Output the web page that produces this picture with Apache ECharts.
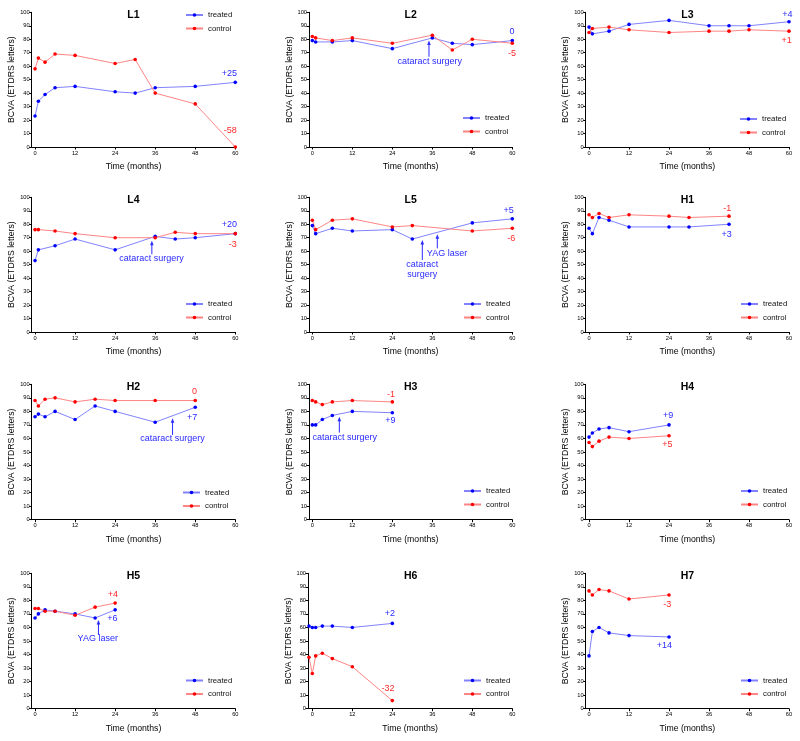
<!DOCTYPE html>
<html><head><meta charset="utf-8">
<script src="https://cdn.jsdelivr.net/npm/echarts@6/dist/echarts.min.js"></script>
<style>html,body{margin:0;padding:0;background:#fff}#c{width:800px;height:741px}</style>
</head><body><div id="c"></div>
<script>
// ---------- DATA ----------
const panelNames = ['L1','L2','L3','L4','L5','H1','H2','H3','H4','H5','H6','H7'];
const xTickLabels = [0, 12, 24, 36, 48, 60];
const seriesNames = ['treated', 'control'];

const L1_months = [0,1,3,6,12,24,30,36,48,60];
const L1_treated = [23,34,39,44,45,41,40,44,45,48];
const L1_control = [58,66,63,69,68,62,65,40,32,0];
const L2_months = [0,1,6,12,24,36,42,48,60];
const L2_treated = [79,78,78,79,73,81,77,76,79];
const L2_control = [82,81,79,81,77,83,72,80,77];
const L3_months = [0,1,6,12,24,36,42,48,60];
const L3_treated = [89,84,86,91,94,90,90,90,93];
const L3_control = [85,88,89,87,85,86,86,87,86];
const L4_months = [0,1,6,12,24,36,42,48,60];
const L4_treated = [53,61,64,69,61,71,69,70,73];
const L4_control = [76,76,75,73,70,70,74,73,73];
const L5_months = [0,1,6,12,24,30,48,60];
const L5_treated = [79,73,77,75,76,69,81,84];
const L5_control = [83,76,83,84,78,79,75,77];
const H1_months = [0,1,3,6,12,24,30,42];
const H1_treated = [77,73,85,83,78,78,78,80];
const H1_control = [87,85,88,85,87,86,85,86];
const H2_months = [0,1,3,6,12,18,24,36,48];
const H2_treated = [76,78,76,80,74,84,80,72,83];
const H2_control = [88,84,89,90,87,89,88,88,88];
const H3_months = [0,1,3,6,12,24];
const H3_treated = [70,70,74,77,80,79];
const H3_control = [88,87,85,87,88,87];
const H4_months = [0,1,3,6,12,24];
const H4_treated = [61,64,67,68,65,70];
const H4_control = [57,54,58,61,60,62];
const H5_months = [0,1,3,6,12,18,24];
const H5_treated = [67,70,73,72,70,67,73];
const H5_control = [74,74,72,72,69,75,78];
const H6_months = [-1,0,1,3,6,12,24];
const H6_treated = [61,60,60,61,61,60,63];
const H6_control = [38,26,39,41,37,31,6];
const H7_months = [0,1,3,6,12,24];
const H7_treated = [39,57,60,56,54,53];
const H7_control = [87,84,88,87,81,84];

const panelData = [
  [L1_months, L1_treated, L1_control],
  [L2_months, L2_treated, L2_control],
  [L3_months, L3_treated, L3_control],
  [L4_months, L4_treated, L4_control],
  [L5_months, L5_treated, L5_control],
  [H1_months, H1_treated, H1_control],
  [H2_months, H2_treated, H2_control],
  [H3_months, H3_treated, H3_control],
  [H4_months, H4_treated, H4_control],
  [H5_months, H5_treated, H5_control],
  [H6_months, H6_treated, H6_control],
  [H7_months, H7_treated, H7_control]
];

// annotation texts: [series, text, month, value]
const notes = [
  [['t','+25',58.2,54.2],['c','-58',58.5,12.6]],
  [['t','0',59.9,86.1],['c','-5',59.9,69.6],['t','cataract surgery',35.2,63.8]],
  [['t','+4',59.5,98.7],['c','+1',59.3,78.9]],
  [['t','+20',58.2,80],['c','-3',59.2,64.6],['t','cataract surgery',34.9,54.2]],
  [['t','+5',58.9,90.5],['c','-6',59.7,69.6],['t','YAG laser',40.4,58.4],['t','cataract\nsurgery',33,46.5]],
  [['c','-1',41.5,91.8],['t','+3',41.3,72.5]],
  [['c','0',47.8,94.5],['t','+7',47.1,75.6],['t','cataract surgery',41.2,59.6]],
  [['c','-1',23.6,92.6],['t','+9',23.4,72.9],['t','cataract surgery',9.7,60.9]],
  [['t','+9',23.7,76.8],['c','+5',23.5,55.2]],
  [['c','+4',23.3,84.7],['t','+6',23.2,66.8],['t','YAG laser',18.8,51.5]],
  [['t','+2',23.3,70.5],['c','-32',22.7,15.1]],
  [['c','-3',23.5,77.1],['t','+14',22.6,46.5]]
];
// arrows: [month, fromValue, toValue]
const arrows = [
  [], [[35,67,79]], [], [[35,57.7,67.8]], [[33,53.5,68.3],[37.5,62.1,72.5]],
  [], [[41.2,62.6,74.9]], [[8.1,64.3,76.1]], [], [[19,54.4,65.5]], [], []
];

// ---------- LAYOUT ----------
const colLeft = [31.7, 309, 585.7];
const colRight = [235.3, 512.3, 789];
const rowTop = [12.3, 197.3, 384.3, 573.3];
const rowBottom = [147, 332, 519.7, 708.7];
const legendLeft = [[185,462,739],[185,463,740],[182,463,740],[185,463,740]];
const legendTop = [[10.5,113.5,114.5],[299.5,299.5,299.5],[488,486.5,486.5],[676,676,676]];
const xMins = [-1,-1,-1,-1,-1,-1,-1,-1,-1,-1,-1.3,-1];

const FONT = 'Liberation Sans, Arial, Helvetica, sans-serif';
const BLUE_LINE = '#8282ff', BLUE_PT = '#0000ff', BLUE_TXT = '#2a2aff';
const RED_LINE = '#ff8585', RED_PT = '#ff0000', RED_TXT = '#ff2a2a';

const grids = [], xAxes = [], yAxes = [], series = [], legends = [], graphics = [];

panelNames.forEach((name, i) => {
  const r = Math.floor(i / 3), c = i % 3;
  const xmin = xMins[i];
  const pxPerMonth = (colRight[c] - colLeft[c]) / 61;
  let left = colLeft[c];
  if (xmin !== -1) left = colRight[c] - pxPerMonth * (60 - xmin);
  const width = colRight[c] - left;
  grids.push({ left: left, top: rowTop[r], width: width, height: rowBottom[r] - rowTop[r], containLabel: false });
  xAxes.push({
    type: 'value', gridIndex: i, min: xmin, max: 60,
    axisLine: { show: true, onZero: false, lineStyle: { color: '#000', width: 1 } },
    axisTick: { show: true, length: 2.5, customValues: xTickLabels, lineStyle: { color: '#000' } },
    axisLabel: { customValues: xTickLabels, fontSize: 5.7, color: '#000', margin: 3, fontFamily: FONT },
    splitLine: { show: false },
    name: 'Time (months)', nameLocation: 'middle', nameGap: 15,
    nameTextStyle: { fontSize: 8.7, color: '#000', fontFamily: FONT }
  });
  yAxes.push({
    type: 'value', gridIndex: i, min: 0, max: 100, interval: 10,
    axisLine: { show: true, onZero: false, lineStyle: { color: '#000', width: 1 } },
    axisTick: { show: true, length: 2.5, lineStyle: { color: '#000' } },
    axisLabel: { fontSize: 5.7, color: '#000', margin: 2, fontFamily: FONT },
    splitLine: { show: false },
    name: 'BCVA (ETDRS letters)', nameLocation: 'middle', nameGap: 12, nameRotate: 90,
    nameTextStyle: { fontSize: 8.7, color: '#000', fontFamily: FONT }
  });
  const [months, tr, ct] = panelData[i];
  const mk = (which) => ({
    symbol: 'circle', symbolSize: 0.1, itemStyle: { color: 'rgba(0,0,0,0)' },
    silent: true, animation: false,
    data: notes[i].filter(n => n[0] === which).map(n => ({
      coord: [n[2], n[3]], name: n[1],
      label: { show: true, position: 'inside', formatter: n[1], fontSize: 9, fontFamily: FONT,
               color: which === 't' ? BLUE_TXT : RED_TXT, align: 'center', lineHeight: 10 }
    }))
  });
  series.push({
    type: 'line', name: seriesNames[0], xAxisIndex: i, yAxisIndex: i,
    data: months.map((m, k) => [m, tr[k]]),
    symbol: 'circle', symbolSize: 3.6, showSymbol: true, clip: false,
    lineStyle: { color: BLUE_LINE, width: 1 }, itemStyle: { color: BLUE_PT },
    emphasis: { disabled: true }, animation: false,
    markPoint: mk('t')
  });
  series.push({
    type: 'line', name: seriesNames[1], xAxisIndex: i, yAxisIndex: i,
    data: months.map((m, k) => [m, ct[k]]),
    symbol: 'circle', symbolSize: 3.6, showSymbol: true, clip: false,
    lineStyle: { color: RED_LINE, width: 1 }, itemStyle: { color: RED_PT },
    emphasis: { disabled: true }, animation: false,
    markPoint: mk('c')
  });
  legends.push({
    data: seriesNames, orient: 'vertical', left: legendLeft[r][c], top: legendTop[r][c],
    itemWidth: 17, itemHeight: 4.5, itemGap: 4.5, padding: 0, selectedMode: false,
    textStyle: { fontSize: 7.8, color: '#111', fontFamily: FONT, lineHeight: 9 }
  });
  graphics.push({
    type: 'text', silent: true,
    x: (colLeft[c] + colRight[c]) / 2, y: rowTop[r] + 2.5,
    style: { text: name, fontSize: 10.5, fontWeight: 'bold', fontFamily: FONT, fill: '#000',
             textAlign: 'center', textVerticalAlign: 'middle' }
  });
});

const chart = echarts.init(document.getElementById('c'), null, { renderer: 'canvas' });
chart.setOption({
  backgroundColor: '#fff', animation: false,
  grid: grids, xAxis: xAxes, yAxis: yAxes, series: series, legend: legends,
  graphic: graphics
});

// arrows drawn through the grid's own coordinate conversion
const arrowGraphics = [];
arrows.forEach((list, i) => {
  list.forEach(a => {
    const p1 = chart.convertToPixel({ gridIndex: i }, [a[0], a[1]]);
    const p2 = chart.convertToPixel({ gridIndex: i }, [a[0], a[2]]);
    arrowGraphics.push({
      type: 'line', silent: true,
      shape: { x1: p1[0], y1: p1[1], x2: p2[0], y2: p2[1] + 3 },
      style: { stroke: BLUE_TXT, lineWidth: 1 }
    });
    arrowGraphics.push({
      type: 'polygon', silent: true,
      shape: { points: [[p2[0], p2[1]], [p2[0] - 1.8, p2[1] + 4.5], [p2[0] + 1.8, p2[1] + 4.5]] },
      style: { fill: BLUE_TXT }
    });
  });
});
chart.setOption({ graphic: graphics.concat(arrowGraphics) });
</script></body></html>
